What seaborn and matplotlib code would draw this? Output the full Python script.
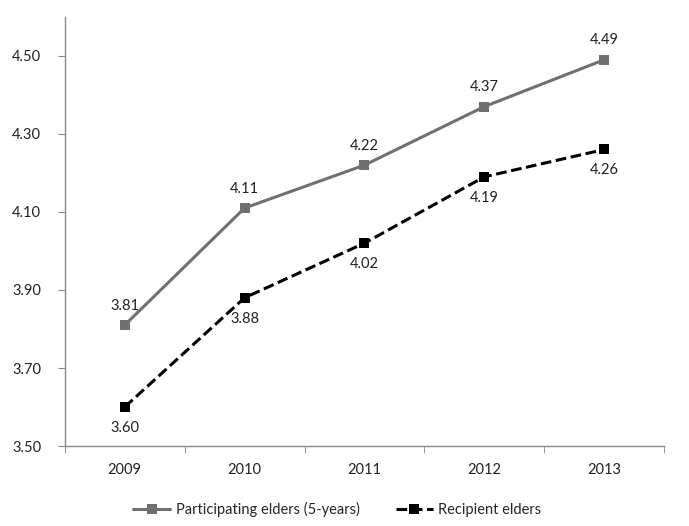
import pandas as pd
import numpy as np
import matplotlib.pyplot as plt
import seaborn as sns

years = [2009, 2010, 2011, 2012, 2013]
participating = [3.81, 4.11, 4.22, 4.37, 4.49]
recipient = [3.60, 3.88, 4.02, 4.19, 4.26]
label_participating = 'Participating elders (5-years)'
label_recipient = 'Recipient elders'

df = pd.DataFrame({'year': years * 2,
                   'score': participating + recipient,
                   'group': [label_participating] * 5 + [label_recipient] * 5})

sns.set_style('white')
plt.rcParams['font.family'] = ['Lato', 'DejaVu Sans']

fig = plt.figure(figsize=(6.89, 5.26), dpi=100)
ax = fig.add_axes([0.094, 0.152, 0.87, 0.816])

sns.lineplot(data=df, x='year', y='score', hue='group', style='group',
             palette={label_participating: '#707070', label_recipient: '#000000'},
             dashes={label_participating: '', label_recipient: (3.5, 1.5)},
             markers={label_participating: 's', label_recipient: 's'},
             markersize=7, markeredgewidth=0, linewidth=2.2, ax=ax, legend=True)

for x, y in zip(years, participating):
    ax.annotate(f'{y:.2f}', (x, y), xytext=(0, 9), textcoords='offset points',
                ha='center', va='bottom', fontsize=10.5, color='#222222')
for x, y in zip(years, recipient):
    ax.annotate(f'{y:.2f}', (x, y), xytext=(0, -10), textcoords='offset points',
                ha='center', va='top', fontsize=10.5, color='#222222')

ax.set_xlim(2008.5, 2013.5)
ax.set_ylim(3.5, 4.6)
ax.set_yticks([3.5, 3.7, 3.9, 4.1, 4.3, 4.5])
ax.set_yticklabels([f'{v:.2f}' for v in [3.5, 3.7, 3.9, 4.1, 4.3, 4.5]])
ax.set_xticks(years)
ax.set_xticklabels([str(y) for y in years])
ax.set_xticks(np.arange(2008.5, 2014, 1.0), minor=True)
ax.tick_params(axis='x', which='major', length=0, pad=12, labelsize=10.5, labelcolor='#222222')
ax.tick_params(axis='x', which='minor', length=5, direction='out', color='#888888', bottom=True)
ax.tick_params(axis='y', length=5, direction='out', color='#888888', left=True,
               pad=12, labelsize=10.5, labelcolor='#222222')
ax.set_xlabel('')
ax.set_ylabel('')
sns.despine(ax=ax)
for s in ['left', 'bottom']:
    ax.spines[s].set_color('#888888')
    ax.spines[s].set_linewidth(1)

ax.legend(title=None, loc='upper center', bbox_to_anchor=(0.455, -0.1), ncol=2,
          frameon=False, fontsize=10.5, handlelength=2.5, handletextpad=0.4,
          columnspacing=2.5)

fig.savefig('out.png', dpi=100)
